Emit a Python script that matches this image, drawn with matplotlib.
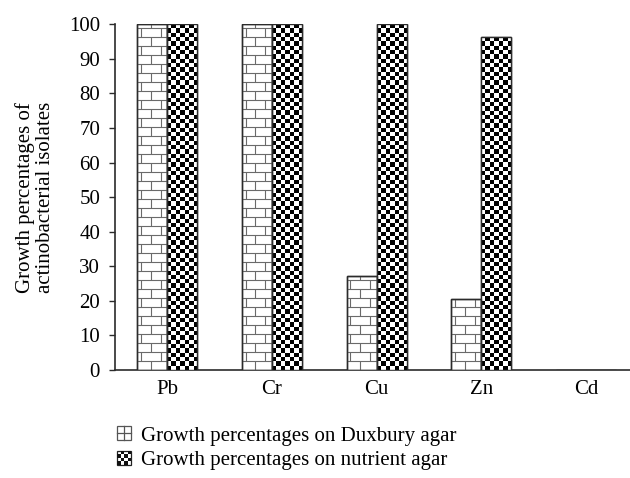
import numpy as np
import matplotlib
matplotlib.use("Agg")
import matplotlib.pyplot as plt
from matplotlib.colors import ListedColormap
from matplotlib.collections import LineCollection
from matplotlib.patches import Rectangle
from matplotlib.legend_handler import HandlerBase

plt.rcParams['font.family'] = ['Liberation Serif', 'DejaVu Serif']

categories = ["Pb", "Cr", "Cu", "Zn", "Cd"]
duxbury = [100, 100, 27.3, 20.4, 0]
nutrient = [100, 100, 100, 96.4, 0]
yticks = list(range(0, 101, 10))
labels = ["Growth percentages on Duxbury agar", "Growth percentages on nutrient agar"]

edge_col = "#2b2b2b"
brick_col = "#6a6a6a"
bw = 0.287
brick_h = 2.6      # brick row height (data units)
cell_h = 1.25      # checker cell height (data units)
n_cols = 7
fs = 15

fig = plt.figure(figsize=(6.3, 4.78), dpi=100)
ax = fig.add_axes([0.1825, 0.2259, 0.8175, 0.7233])

x = np.arange(len(categories))
bars_d = ax.bar(x - bw / 2, duxbury, bw, facecolor="white", edgecolor=edge_col, linewidth=1.0, zorder=3)
bars_n = ax.bar(x + bw / 2, nutrient, bw, facecolor="white", edgecolor=edge_col, linewidth=1.0, zorder=3)

# brick pattern for Duxbury bars
for bar in bars_d:
    h = bar.get_height()
    if h <= 0:
        continue
    x0, w = bar.get_x(), bar.get_width()
    segs = []
    rows = np.arange(0, h, brick_h)
    for i, y0 in enumerate(rows):
        y1 = min(y0 + brick_h, h)
        segs.append([(x0, y1), (x0 + w, y1)])
        joints = [0.45] if i % 2 == 0 else [0.12, 0.78]
        for f in joints:
            segs.append([(x0 + f * w, y0), (x0 + f * w, y1)])
    lc = LineCollection(segs, colors=brick_col, linewidths=0.8, zorder=4)
    ax.add_collection(lc)
    lc.set_clip_path(bar)

# checker pattern for nutrient bars
checker_cmap = ListedColormap(["white", "black"])
for bar in bars_n:
    h = bar.get_height()
    if h <= 0:
        continue
    x0, w = bar.get_x(), bar.get_width()
    n_rows = int(round(h / cell_h))
    ii, jj = np.indices((n_rows, n_cols))
    pat = (ii + jj) % 2
    im = ax.imshow(pat, extent=(x0, x0 + w, 0, n_rows * cell_h), aspect="auto",
                   interpolation="nearest", cmap=checker_cmap, zorder=4)
    im.set_clip_path(bar)

# redraw edges on top
for bar in list(bars_d) + list(bars_n):
    if bar.get_height() > 0:
        ax.add_patch(Rectangle((bar.get_x(), 0), bar.get_width(), bar.get_height(),
                               fill=False, edgecolor=edge_col, linewidth=1.0, zorder=5))

ax.set_xlim(-0.5, 4.42)
ax.set_ylim(0, 100)
ax.set_xticks(x)
ax.set_xticklabels(categories, fontsize=fs)
ax.set_yticks(yticks)
ax.tick_params(axis="y", direction="out", length=4.2, width=1, pad=6.5, labelsize=fs, color=edge_col)
ax.tick_params(axis="x", length=0, pad=7.5)
for s in ["top", "right"]:
    ax.spines[s].set_visible(False)
for s in ["left", "bottom"]:
    ax.spines[s].set_linewidth(1.2)
    ax.spines[s].set_color(edge_col)

ax.set_ylabel("Growth percentages of\nactinobacterial isolates", fontsize=fs, linespacing=1.1, labelpad=10)


class BrickIcon(HandlerBase):
    def create_artists(self, legend, orig_handle, xdescent, ydescent, width, height, fontsize, trans):
        s = height
        x0, y0 = -xdescent, -ydescent
        arts = [Rectangle((x0, y0), s, s, facecolor="white", edgecolor="#555555", lw=0.9, transform=trans)]
        arts.append(plt.Line2D([x0 + s / 2, x0 + s / 2], [y0, y0 + s], color="#555555", lw=0.9, transform=trans))
        arts.append(plt.Line2D([x0, x0 + s], [y0 + s / 2, y0 + s / 2], color="#555555", lw=0.9, transform=trans))
        return arts


class CheckerIcon(HandlerBase):
    def create_artists(self, legend, orig_handle, xdescent, ydescent, width, height, fontsize, trans):
        s = height
        x0, y0 = -xdescent, -ydescent
        arts = [Rectangle((x0, y0), s, s, facecolor="white", edgecolor="#222222", lw=0.9, transform=trans)]
        n = 4
        c = s / n
        for i in range(n):
            for j in range(n):
                if (i + j) % 2 == 0:
                    arts.append(Rectangle((x0 + j * c, y0 + i * c), c, c, facecolor="#111111",
                                          edgecolor="none", transform=trans))
        return arts


h1 = Rectangle((0, 0), 1, 1)
h2 = Rectangle((0, 0), 1, 1)
fig.legend([h1, h2], labels, loc="upper left", bbox_to_anchor=(0.1865, 0.108),
           frameon=False, fontsize=fs, borderpad=0, borderaxespad=0,
           handlelength=0.65, handleheight=0.65, handletextpad=0.5, labelspacing=0.25,
           handler_map={h1: BrickIcon(), h2: CheckerIcon()})

fig.savefig("out.png", dpi=100)
